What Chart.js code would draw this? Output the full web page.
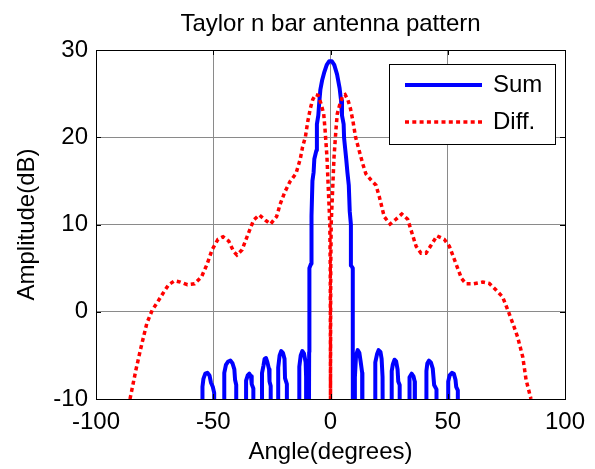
<!DOCTYPE html>
<html>
<head>
<meta charset="utf-8">
<script src="https://cdn.jsdelivr.net/npm/chart.js@4.4.0/dist/chart.umd.min.js"></script>
<style>
  html, body { margin: 0; padding: 0; background: #fff; }
  #caja { width: 595px; height: 469px; }
</style>
</head>
<body>
<div id="caja"><canvas id="patron" width="595" height="469"></canvas></div>
<script>
// Valores (grados, dB). -40 = por debajo del eje (se recorta)
var sumAngle = [
  -54.6, -54.6, -54.2, -53.4, -52.5, -51.6, -51.0, -50.2, -49.6, -49.6,
  -45.3, -45.3, -44.6, -43.6, -42.7, -41.8, -41.0, -40.7, -40.2, -40.2,
  -36.0, -36.0, -35.3, -34.6, -33.9, -33.6, -32.9, -32.9,
  -29.2, -29.2, -28.6, -28.1, -27.5, -26.9, -26.2, -26.0, -25.5, -25.5,
  -22.3, -22.3, -21.7, -21.0, -20.3, -19.6, -19.4, -18.6, -18.6,
  -13.3, -13.3, -12.7, -12.0, -11.3, -10.6, -10.4, -10.4,
  -9.5, -9.1, -9.0, -8.3, -8.3, -7.9, -7.7, -7.2, -6.9, -6.0, -5.8, -5.2, -4.8, -4.3, -3.6, -2.6, -1.6, -0.6,
  0.6, 1.6, 2.8, 3.9, 4.5, 4.9, 5.6, 5.8, 6.7, 7.2, 7.8, 8.2, 8.7, 8.7, 9.5, 9.5, 9.7,
  10.4, 10.4, 10.9, 11.6, 12.3, 12.9, 13.5, 13.6,
  19.1, 19.1, 19.9, 20.5, 21.3, 21.8, 22.2, 22.6,
  26.1, 26.1, 26.6, 27.3, 28.0, 28.6, 28.9, 29.5, 29.5,
  33.5, 33.5, 33.9, 34.6, 35.4, 35.9, 36.0,
  40.9, 40.9, 41.3, 42.0, 42.8, 43.6, 44.2, 45.2, 45.2,
  50.2, 50.2, 50.8, 51.8, 52.6, 53.3, 53.6, 54.3, 54.3
];
var sumDb = [
  -40, -8.6, -7.7, -7.1, -7.0, -7.3, -8.1, -8.6, -9.3, -40,
  -40, -7.0, -6.1, -5.7, -5.6, -5.9, -6.6, -7.8, -8.4, -40,
  -40, -7.9, -7.3, -7.1, -7.4, -8.3, -8.8, -40,
  -40, -7.0, -6.2, -5.4, -5.3, -5.8, -6.6, -8.0, -8.5, -40,
  -40, -6.4, -5.0, -4.5, -4.7, -5.4, -7.6, -8.3, -40,
  -40, -6.3, -5.0, -4.5, -4.8, -5.8, -7.5, -40,
  -40, -4.6, 5.0, 5.5, 10.0, 11.0, 15.0, 16.0, 17.5, 18.5, 21.5, 22.5, 24.0, 25.5, 26.5, 27.5, 28.3, 28.7,
  28.7, 28.3, 27.2, 25.6, 24.2, 22.5, 21.5, 19.9, 17.5, 16.0, 14.5, 11.5, 10.0, 5.3, 5.0, -4.6, -40,
  -40, -7.5, -5.0, -4.4, -4.7, -5.8, -7.0, -40,
  -40, -5.8, -4.8, -4.4, -4.6, -5.4, -7.5, -40,
  -40, -6.8, -6.0, -5.5, -5.7, -6.6, -8.0, -8.4, -40,
  -40, -8.4, -7.5, -7.1, -7.4, -8.0, -40,
  -40, -6.8, -5.9, -5.6, -5.8, -6.5, -8.4, -8.9, -40,
  -40, -8.0, -7.3, -7.0, -7.1, -7.8, -8.6, -9.0, -40
];

var diffAngle = [
  -85.5, -83, -81, -78.3, -76, -74, -71, -69, -66.5, -64, -61, -58, -55, -52.7, -50.5,
  -48, -45.8, -43.4, -41.3, -39.9, -37.7, -35, -32.8, -30.4, -27.8, -25.6, -23, -21.5,
  -19.5, -17.3, -14.7, -12.9, -11.9, -10.7, -9.7, -8.6, -7.6, -6.4, -5.3, -4.1, -2.9,
  -2.3, -1.5, -0.9, -0.3, -0.1, 0,
  0.1, 0.3, 0.9, 1.5, 2.3, 2.9, 4.1, 5.3, 6.2, 7.4, 8.5, 9.6, 10.7, 11.8, 12.5, 13.7,
  15.1, 17.3, 19.4, 20.8, 22.9, 25.4, 27.9, 30.4, 32.9, 34.3, 36.5, 38.6, 40.7, 42.6,
  45.4, 48.5, 50.7, 53.5, 55.9, 57.8, 61.1, 64.9, 67.7, 70.6, 73.4, 75.6, 77.7, 79.8,
  82, 83.4, 85.5
];
var diffDb = [
  -10, -6.7, -4.3, -1.3, 0.2, 1.0, 2.3, 3.1, 3.55, 3.4, 3.1, 3.2, 4.0, 5.4, 7.1,
  8.3, 8.6, 8.1, 6.9, 6.5, 7.1, 9.0, 10.5, 11.1, 10.5, 10.05, 10.9, 12.3,
  13.7, 14.9, 15.85, 17.5, 18.9, 20.05, 21.8, 23.3, 24.3, 24.9, 24.8, 23.9, 22.7,
  20.8, 17.7, 13.9, 10.1, 5, -10,
  5, 10.1, 13.9, 17.7, 20.8, 22.7, 23.9, 24.8, 24.9, 24.3, 23.3, 21.8, 20.0, 18.9, 18.2, 17.0,
  15.8, 15.1, 14.5, 13.2, 10.9, 10.05, 10.6, 11.2, 10.6, 9.4, 7.5, 6.7, 6.7, 7.5,
  8.7, 8.3, 7.5, 5.5, 3.8, 3.2, 3.2, 3.4, 3.25, 2.5, 1.7, 0.2, -1.3, -2.9,
  -5.2, -7.8, -10
];

var xTicks = [-100, -50, 0, 50, 100];
var yTicks = [-10, 0, 10, 20, 30];

var fuente = '"Liberation Sans", Arial, sans-serif';

function pares(xs, ys) {
  return xs.map(function (x, i) { return { x: x, y: ys[i] }; });
}

// marco, marcas hacia dentro y leyenda al estilo matlab
var marcoMatlab = {
  id: 'marcoMatlab',
  afterDatasetsDraw: function (chart) {
    var ctx = chart.ctx, ca = chart.chartArea;
    var sx = chart.scales.x, sy = chart.scales.y;
    ctx.save();
    ctx.strokeStyle = '#000';
    ctx.lineWidth = 1;
    ctx.beginPath();
    xTicks.forEach(function (v) {
      var px = Math.round(sx.getPixelForValue(v)) + 0.5;
      ctx.moveTo(px, ca.bottom); ctx.lineTo(px, ca.bottom - 5);
      ctx.moveTo(px, ca.top); ctx.lineTo(px, ca.top + 5);
    });
    yTicks.forEach(function (v) {
      var py = Math.round(sy.getPixelForValue(v)) + 0.5;
      ctx.moveTo(ca.left, py); ctx.lineTo(ca.left + 5, py);
      ctx.moveTo(ca.right, py); ctx.lineTo(ca.right - 5, py);
    });
    ctx.stroke();
    ctx.strokeRect(Math.round(ca.left) + 0.5, Math.round(ca.top) + 0.5,
      Math.round(ca.right - ca.left), Math.round(ca.bottom - ca.top));

    // leyenda
    var lx = ca.right - 176, ly = ca.top + 14;
    ctx.fillStyle = '#fff';
    ctx.fillRect(lx, ly, 166, 80);
    ctx.strokeRect(lx + 0.5, ly + 0.5, 166, 80);
    var ds = chart.data.datasets;
    [0, 1].forEach(function (i) {
      var yy = ly + 21 + i * 37;
      ctx.beginPath();
      ctx.strokeStyle = ds[i].borderColor;
      ctx.lineWidth = ds[i].borderWidth;
      ctx.setLineDash(ds[i].borderDash || []);
      ctx.moveTo(lx + 16, yy); ctx.lineTo(lx + 93, yy);
      ctx.stroke();
      ctx.setLineDash([]);
      ctx.fillStyle = '#000';
      ctx.font = '24px ' + fuente;
      ctx.textBaseline = 'middle';
      ctx.textAlign = 'left';
      ctx.fillText(ds[i].label, lx + 104, yy);
    });
    ctx.restore();
  }
};

var ctx = document.getElementById('patron').getContext('2d');
var grafico = new Chart(ctx, {
  type: 'line',
  data: {
    datasets: [{
      label: 'Sum',
      data: pares(sumAngle, sumDb),
      borderColor: '#0000ff',
      borderWidth: 4,
      borderJoinStyle: 'round',
      pointRadius: 0,
      tension: 0,
      clip: 0,
      order: 2
    }, {
      label: 'Diff.',
      data: pares(diffAngle, diffDb),
      borderColor: '#ff0000',
      borderWidth: 3.5,
      borderDash: [4, 3.3],
      pointRadius: 0,
      tension: 0,
      clip: 0,
      order: 1
    }]
  },
  options: {
    responsive: false,
    animation: false,
    devicePixelRatio: 1,
    layout: { padding: { top: 0, right: 30, bottom: 0, left: 0 } },
    plugins: {
      legend: { display: false },
      tooltip: { enabled: false },
      title: {
        display: true,
        fullSize: false,
        text: 'Taylor n bar antenna pattern',
        color: '#000',
        font: { family: fuente, size: 24, weight: 'normal' },
        padding: { top: 9.6, bottom: 11.6 }
      }
    },
    scales: {
      x: {
        type: 'linear',
        min: -100,
        max: 100,
        afterBuildTicks: function (s) { s.ticks = xTicks.map(function (v) { return { value: v }; }); },
        afterFit: function (s) { s.height = 70; },
        grid: { color: '#8a8a8a', lineWidth: 1, drawTicks: false },
        border: { display: false },
        ticks: { color: '#000', padding: 9, maxRotation: 0, font: { family: fuente, size: 24 } },
        title: {
          display: true, text: 'Angle(degrees)', color: '#000',
          font: { family: fuente, size: 24 }, padding: { top: 0, bottom: 2 }
        }
      },
      y: {
        min: -10,
        max: 30,
        afterBuildTicks: function (s) { s.ticks = yTicks.map(function (v) { return { value: v }; }); },
        afterFit: function (s) { s.width = 96; },
        grid: { color: '#8a8a8a', lineWidth: 1, drawTicks: false },
        border: { display: false },
        ticks: { color: '#000', padding: 8, font: { family: fuente, size: 24 } },
        title: {
          display: true, text: 'Amplitude(dB)', color: '#000',
          font: { family: fuente, size: 24 }, padding: { top: 12.6, bottom: 0 }
        }
      }
    }
  },
  plugins: [marcoMatlab]
});
</script>
</body>
</html>
